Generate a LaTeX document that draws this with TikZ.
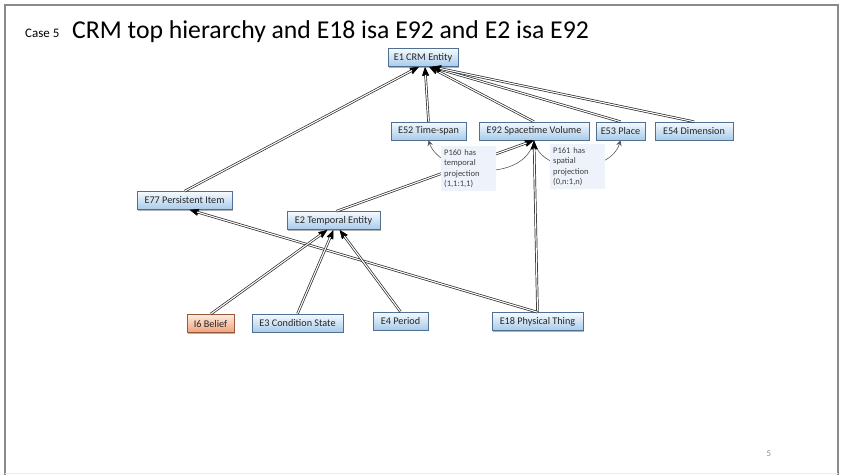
\documentclass[tikz,border=0pt]{standalone}
\usepackage{fontspec}
\setmainfont{Carlito}
\usetikzlibrary{arrows.meta,shadows}
\definecolor{boxtop}{HTML}{F6FAFE}
\definecolor{boxbot}{HTML}{A7CBEA}
\definecolor{boxline}{HTML}{4F6F93}
\definecolor{orgtop}{HTML}{FDEBDD}
\definecolor{orgbot}{HTML}{F1A27A}
\definecolor{orgline}{HTML}{9A5A3A}
\definecolor{notefill}{HTML}{EEF3FB}
\definecolor{frame}{HTML}{8A8A8A}
\newcommand{\isaedge}[2]{%
  \draw[isatip] (#1) -- (#2);
  \draw[isaline] (#1) -- (#2);}
\begin{document}
\begin{tikzpicture}[x=1pt,y=-1pt,
  cls/.style={draw=boxline, line width=0.6pt, top color=boxtop, bottom color=boxbot,
    minimum height=18pt, inner xsep=3pt, inner ysep=2pt,
    font=\fontsize{10.2}{12}\selectfont, text=black!85,
    drop shadow={shadow xshift=1.2pt, shadow yshift=-1.2pt, opacity=0.3, fill=black}},
  orgcls/.style={cls, draw=orgline, top color=orgtop, bottom color=orgbot},
  isatip/.style={draw=black, line width=0.6pt, -{Triangle[length=9pt,width=7pt]}},
  isaline/.style={draw=black!85, double=white, line width=0.7pt, double distance=1.1pt, shorten >=8pt},
  proj/.style={draw=black!65, line width=0.6pt, -{Stealth[length=5.5pt,width=5.5pt]}},
  note/.style={fill=notefill, inner sep=3pt, text width=49pt, align=left, font=\fontsize{8.5}{10.5}\selectfont, text=black!75, anchor=north west}
]
\useasboundingbox (0,0) rectangle (845,475);
% slide frame
\draw[frame, line width=1.6pt] (5,475) -- (5,5) -- (838,5) -- (838,475);
\draw[black!8, line width=0.8pt] (5,473) -- (838,473);

% titles
\node[anchor=base west, inner sep=0, font=\fontsize{13}{15}\selectfont] (case) at (25,37) {Case 5};
\node[anchor=base west, inner sep=0, font=\fontsize{25.7}{30}\selectfont] (title) at (72,38) {CRM top hierarchy and E18 isa E92 and E2 isa E92};
\node[font=\fontsize{9}{10}\selectfont, text=black!45] (pnum) at (769,454) {5};

% class nodes
\node[cls, minimum width=70pt] (E1) at (423,57.5) {E1 CRM Entity};
\node[cls, minimum width=75pt] (E52) at (428.5,131) {E52 Time-span};
\node[cls, minimum width=110pt] (E92) at (534,131) {E92 Spacetime Volume};
\node[cls, minimum width=49pt] (E53) at (620.5,131) {E53 Place};
\node[cls, minimum width=78pt] (E54) at (694,131) {E54 Dimension};
\node[cls, minimum width=95pt] (E77) at (184.5,200.5) {E77 Persistent Item};
\node[cls, minimum width=93pt] (E2) at (333.5,220.5) {E2 Temporal Entity};
\node[orgcls, minimum width=47pt] (I6) at (210.5,323.5) {I6 Belief};
\node[cls, minimum width=91pt] (E3) at (297.5,323) {E3 Condition State};
\node[cls, minimum width=55pt] (E4) at (400.5,321) {E4 Period};
\node[cls, minimum width=91pt] (E18) at (537.5,321.5) {E18 Physical Thing};

% projection curves (under the notes)
\draw[proj] (E92.south) .. controls (525,185) and (440,175) .. (E52.south);
\draw[proj] (E92.south) .. controls (540,175) and (610,175) .. (E53.south);

% isa edges
\isaedge{E77.north}{[xshift=-4pt]E1.south}
\isaedge{E52.north}{[xshift=2pt]E1.south}
\isaedge{E92.north}{[xshift=6pt]E1.south}
\isaedge{E53.north}{[xshift=8pt]E1.south}
\isaedge{E54.north}{[xshift=9pt]E1.south}
\isaedge{[xshift=3pt]E2.north}{E92.south}
\isaedge{E18.north}{E92.south}
\isaedge{E18.north}{[xshift=5pt]E77.south}
\isaedge{I6.north}{[xshift=-6pt]E2.south}
\isaedge{E3.north}{E2.south}
\isaedge{E4.north}{[xshift=6pt]E2.south}

% notes
\node[note] (n160) at (441,146) {P160 has\\temporal\\projection\\(1,1:1,1)};
\node[note] (n161) at (550,144) {P161 has\\spatial\\projection\\(0,n:1,n)};
\end{tikzpicture}
\end{document}
